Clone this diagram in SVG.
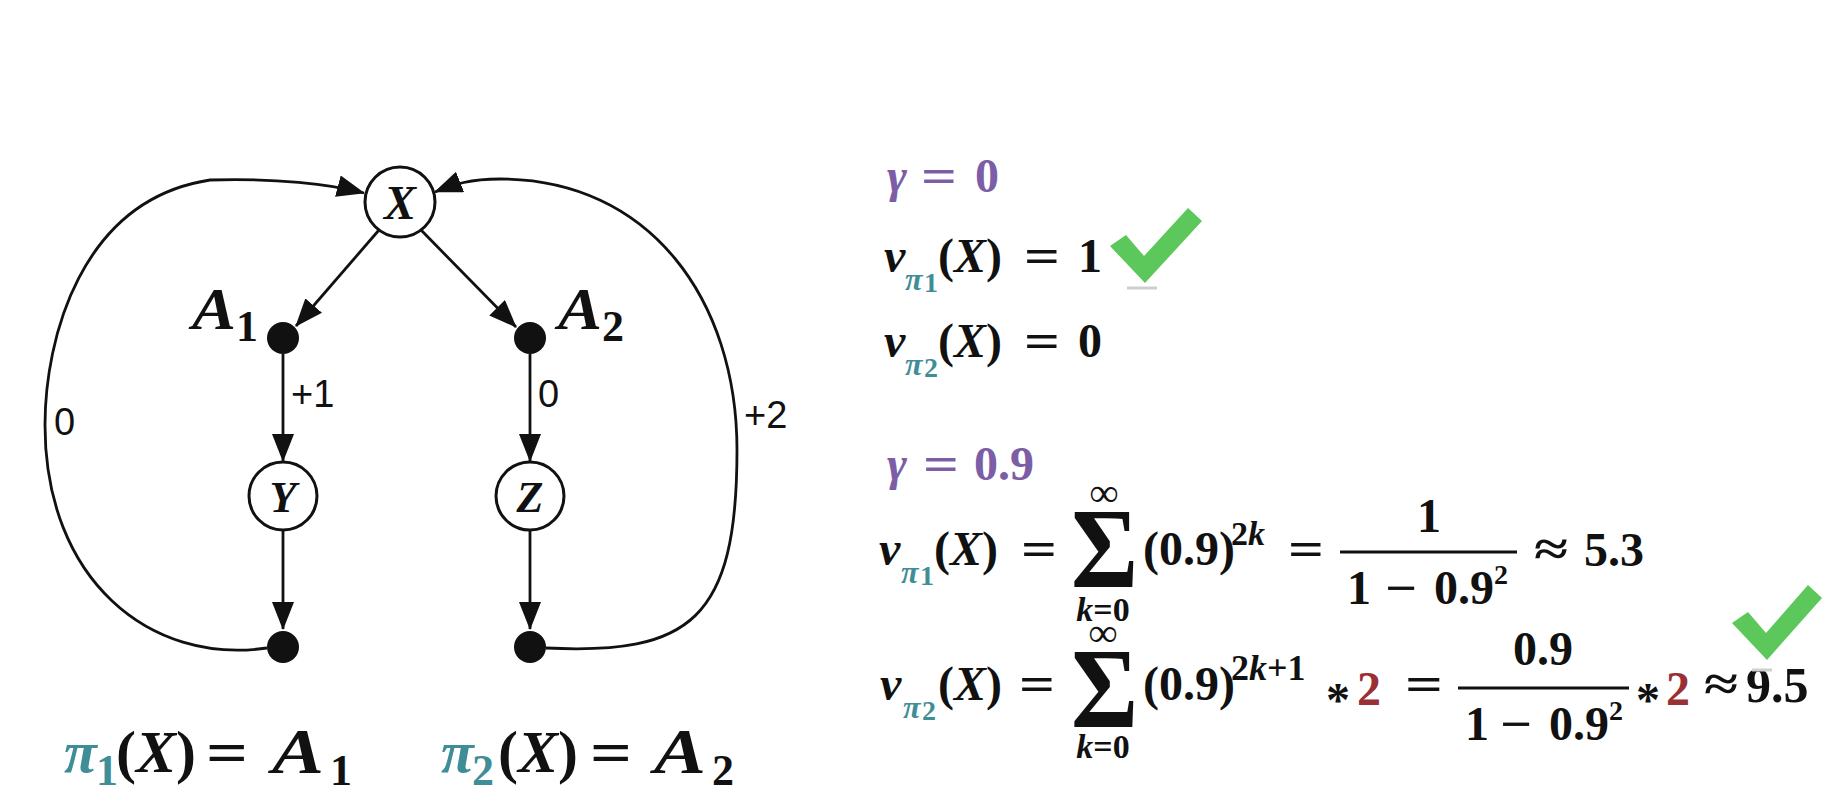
<svg xmlns="http://www.w3.org/2000/svg" width="1842" height="792" viewBox="0 0 1842 792">
<defs>
<style>
.m{font-family:"Liberation Serif","Times New Roman",serif;font-weight:bold;fill:#111}
.i{font-style:italic}
.pu{fill:#7b5ea6}
.te{fill:#3e8d97}
.rd{fill:#9a3034}
.lb{font-family:"Liberation Sans",Arial,sans-serif;font-size:38px;fill:#111}
.node{fill:#fff;stroke:#111;stroke-width:3}
.dot{fill:#111}
.e{fill:none;stroke:#111;stroke-width:2.8;marker-end:url(#ah)}
.bar{stroke:#111;stroke-width:3}
.ck{fill:#5cc85b}
.sh{stroke:#cfcfcf;stroke-width:3}
.nl{font-family:"Liberation Serif","Times New Roman",serif;font-style:italic;font-weight:bold;fill:#111;text-anchor:middle}
.mid{text-anchor:middle}
</style>
<marker id="ah" markerUnits="userSpaceOnUse" markerWidth="28" markerHeight="22" refX="27" refY="11" orient="auto" viewBox="0 0 28 22"><path d="M0,0 L28,11 L0,22 z" fill="#111"/></marker>
</defs>
<rect width="1842" height="792" fill="#fff"/>

<g id="connectors">
<path class="e" d="M379 230 L296 326"/>
<path class="e" d="M421 230 L516 327"/>
<path class="e" d="M283 354 L283 461"/>
<path class="e" d="M283 531 L283 629"/>
<path class="e" d="M530 354 L530 461"/>
<path class="e" d="M530 531 L530 629"/>
<path class="e" d="M267 648 C150 665 45 580 45 425 C45 340 80 200 210 180 C275 178 330 184 364 193"/>
<path class="e" d="M546 648 C690 655 737 620 737 450 C737 300 650 179 500 179 C470 179 455 184 435 192"/>
<text class="lb" x="291" y="407">+1</text>
<text class="lb" x="538" y="407">0</text>
<text class="lb" x="54" y="435">0</text>
<text class="lb" x="744" y="428">+2</text>
</g>

<g id="node-X"><circle class="node" cx="400" cy="202" r="35"/><text class="nl" font-size="48" x="400" y="219">X</text></g>
<g id="node-A1"><circle class="dot" cx="283" cy="338" r="16"/>
<text class="m i" x="192" y="329" font-size="60" textLength="44" lengthAdjust="spacingAndGlyphs">A</text>
<text class="m" x="236" y="341" font-size="44">1</text></g>
<g id="node-A2"><circle class="dot" cx="530" cy="338" r="16"/>
<text class="m i" x="558" y="329" font-size="60" textLength="44" lengthAdjust="spacingAndGlyphs">A</text>
<text class="m" x="602" y="341" font-size="44">2</text></g>
<g id="node-Y"><circle class="node" cx="283" cy="496" r="34"/><text class="nl" font-size="44" x="283" y="512">Y</text></g>
<g id="node-Z"><circle class="node" cx="530" cy="496" r="34"/><text class="nl" font-size="44" x="530" y="512">Z</text></g>
<g id="node-end1"><circle class="dot" cx="283" cy="647" r="16"/></g>
<g id="node-end2"><circle class="dot" cx="530" cy="647" r="16"/></g>

<g id="policies">
<text class="m" font-size="60"><tspan class="i te" x="64" y="772">π</tspan><tspan class="te" x="96" y="785" font-size="44">1</tspan><tspan x="116" y="772">(</tspan><tspan class="i">X</tspan><tspan>)</tspan></text>
<text class="m" font-size="60" x="206" y="772" textLength="42" lengthAdjust="spacingAndGlyphs">=</text>
<text class="m i" x="272" y="773" font-size="64" textLength="52" lengthAdjust="spacingAndGlyphs">A</text>
<text class="m" x="330" y="785" font-size="44">1</text>
<text class="m" font-size="60"><tspan class="i te" x="441" y="772">π</tspan><tspan class="te" x="472" y="785" font-size="44">2</tspan><tspan x="498" y="772">(</tspan><tspan class="i">X</tspan><tspan>)</tspan></text>
<text class="m" font-size="60" x="590" y="772" textLength="42" lengthAdjust="spacingAndGlyphs">=</text>
<text class="m i" x="654" y="773" font-size="64" textLength="52" lengthAdjust="spacingAndGlyphs">A</text>
<text class="m" x="712" y="785" font-size="44">2</text>
</g>

<g id="gamma0">
<text class="m pu" font-size="48"><tspan class="i" x="887" y="192">γ</tspan></text>
<text class="m pu" font-size="48" x="921" y="192" textLength="36" lengthAdjust="spacingAndGlyphs">=</text>
<text class="m pu" font-size="48" x="975" y="192">0</text>

<text class="m" font-size="48"><tspan class="i" x="884" y="272">v</tspan><tspan class="i te" x="905" y="290" font-size="32">π</tspan><tspan class="te" x="924" y="292" font-size="28">1</tspan><tspan x="938" y="272">(</tspan><tspan class="i">X</tspan><tspan>)</tspan></text>
<text class="m" font-size="48" x="1024" y="272" textLength="36" lengthAdjust="spacingAndGlyphs">=</text>
<text class="m" font-size="48" x="1078" y="272">1</text>

<text class="m" font-size="48"><tspan class="i" x="884" y="357">v</tspan><tspan class="i te" x="905" y="375" font-size="32">π</tspan><tspan class="te" x="924" y="377" font-size="28">2</tspan><tspan x="938" y="357">(</tspan><tspan class="i">X</tspan><tspan>)</tspan></text>
<text class="m" font-size="48" x="1024" y="357" textLength="36" lengthAdjust="spacingAndGlyphs">=</text>
<text class="m" font-size="48" x="1078" y="357">0</text>
</g>

<g id="check1">
<polygon class="ck" points="1110,246 1126,235 1144,256 1188,208 1202,221 1145,283"/>
<line class="sh" x1="1127" y1="288" x2="1157" y2="288"/>
</g>

<g id="gamma09">
<text class="m pu" font-size="48"><tspan class="i" x="887" y="480">γ</tspan></text>
<text class="m pu" font-size="48" x="923" y="480" textLength="36" lengthAdjust="spacingAndGlyphs">=</text>
<text class="m pu" font-size="48" x="974" y="480">0.9</text>

<text class="m" font-size="48"><tspan class="i" x="879" y="565">v</tspan><tspan class="i te" x="901" y="583" font-size="32">π</tspan><tspan class="te" x="920" y="585" font-size="28">1</tspan><tspan x="934" y="565">(</tspan><tspan class="i">X</tspan><tspan>)</tspan></text>
<text class="m" font-size="48" x="1021" y="565" textLength="36" lengthAdjust="spacingAndGlyphs">=</text>
<text class="m" font-size="114" transform="translate(1071 587) scale(0.9 1)">Σ</text>
<text class="m mid" font-size="40" x="1104" y="506">∞</text>
<text class="m mid" font-size="34" x="1103" y="621"><tspan class="i">k</tspan>=0</text>
<text class="m" font-size="48" x="1143" y="565">(0.9)</text>
<text class="m" font-size="34" x="1231" y="545">2<tspan class="i">k</tspan></text>
<text class="m" font-size="48" x="1288" y="565" textLength="36" lengthAdjust="spacingAndGlyphs">=</text>
<line class="bar" x1="1340" y1="552" x2="1517" y2="552"/>
<text class="m mid" font-size="48" x="1429" y="532">1</text>
<text class="m" font-size="48" x="1347" y="604">1</text>
<text class="m" font-size="48" x="1385" y="604" textLength="32" lengthAdjust="spacingAndGlyphs">−</text>
<text class="m" font-size="48" x="1434" y="604">0.9</text>
<text class="m" font-size="28" x="1494" y="584">2</text>
<text class="m" font-size="48" x="1534" y="565" textLength="34" lengthAdjust="spacingAndGlyphs">≈</text>
<text class="m" font-size="48" x="1584" y="566">5.3</text>

<text class="m" font-size="48"><tspan class="i" x="880" y="700">v</tspan><tspan class="i te" x="903" y="718" font-size="32">π</tspan><tspan class="te" x="922" y="720" font-size="28">2</tspan><tspan x="938" y="700">(</tspan><tspan class="i">X</tspan><tspan>)</tspan></text>
<text class="m" font-size="48" x="1019" y="700" textLength="36" lengthAdjust="spacingAndGlyphs">=</text>
<text class="m" font-size="114" transform="translate(1071 727) scale(0.9 1)">Σ</text>
<text class="m mid" font-size="40" x="1103" y="646">∞</text>
<text class="m mid" font-size="34" x="1103" y="758"><tspan class="i">k</tspan>=0</text>
<text class="m" font-size="48" x="1143" y="700">(0.9)</text>
<text class="m" font-size="36" x="1231" y="680">2<tspan class="i">k</tspan>+1</text>
<text class="m" font-size="48" x="1326" y="716">*</text>
<text class="m rd" font-size="48" x="1357" y="705">2</text>
<text class="m" font-size="48" x="1405" y="700" textLength="38" lengthAdjust="spacingAndGlyphs">=</text>
<line class="bar" x1="1458" y1="688" x2="1629" y2="688"/>
<text class="m mid" font-size="48" x="1543" y="665">0.9</text>
<text class="m" font-size="48" x="1465" y="740">1</text>
<text class="m" font-size="48" x="1500" y="740" textLength="32" lengthAdjust="spacingAndGlyphs">−</text>
<text class="m" font-size="48" x="1549" y="740">0.9</text>
<text class="m" font-size="28" x="1609" y="720">2</text>
<text class="m" font-size="48" x="1636" y="716">*</text>
<text class="m rd" font-size="48" x="1666" y="705">2</text>
<text class="m" font-size="48" x="1704" y="700" textLength="34" lengthAdjust="spacingAndGlyphs">≈</text>
<text class="m" font-size="50" x="1746" y="702">9.5</text>
</g>

<g id="check2">
<polygon class="ck" points="1732,623 1748,612 1766,633 1808,585 1822,598 1767,660"/>
<line class="sh" x1="1752" y1="670" x2="1772" y2="670"/>
</g>
</svg>
